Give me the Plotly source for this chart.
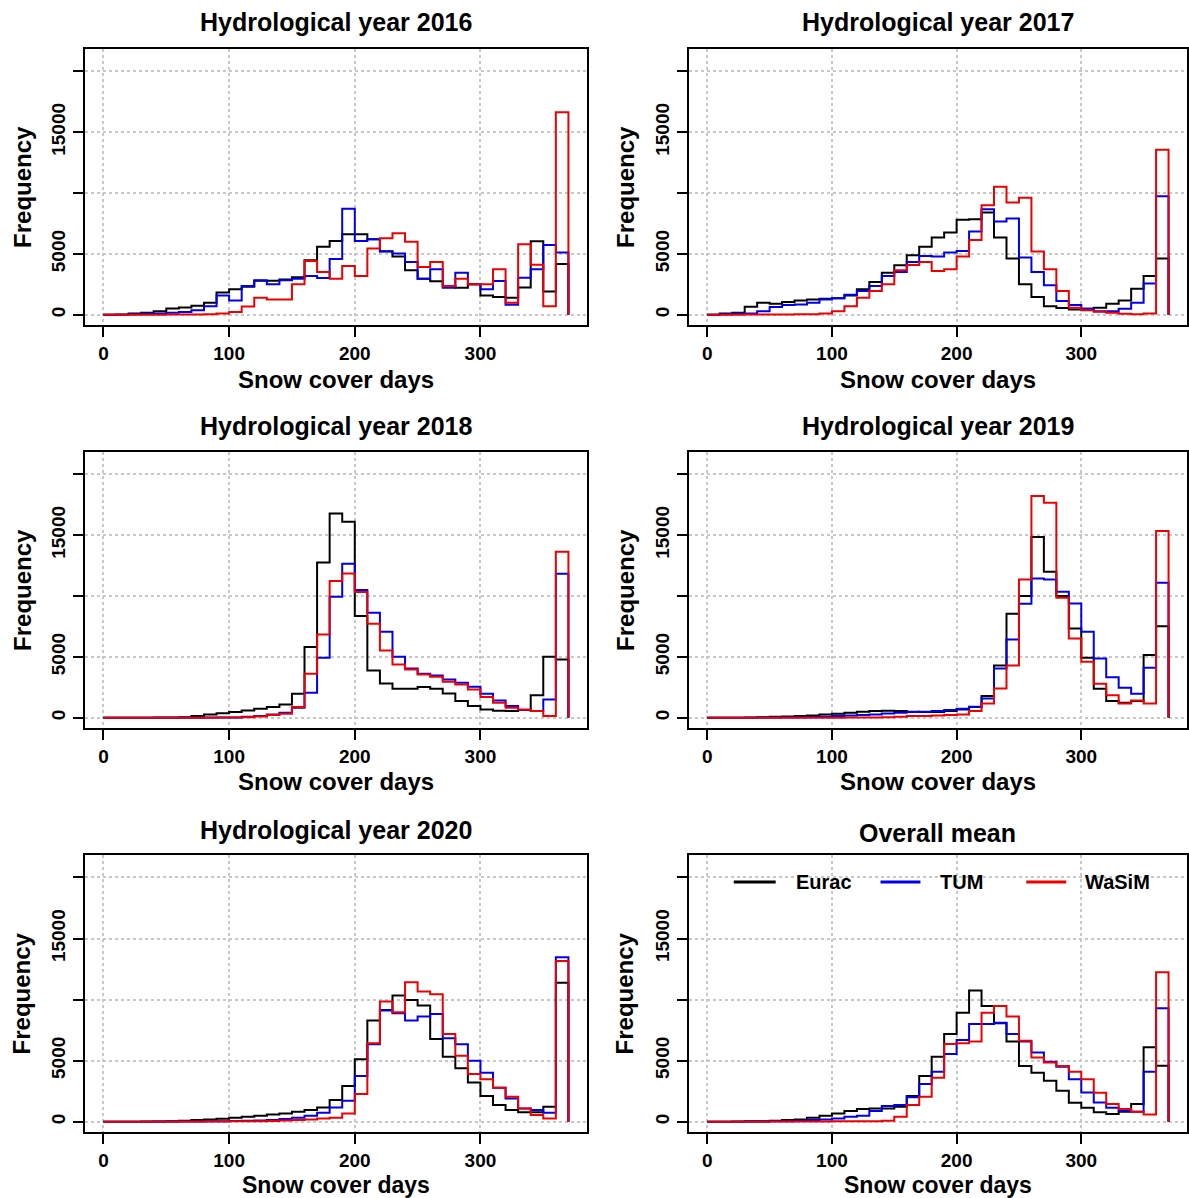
import plotly.graph_objects as go

# ---------------- data (counts per 10-day bin, 0..370 days) ----------------
BIN_EDGES = list(range(0, 380, 10))

EURAC_2016 = [0, 20, 100, 170, 300, 520, 600, 740, 990, 1840, 2090, 2300, 2800, 2800, 2900, 3080, 4480, 5600, 6070, 6620,
              6620, 6200, 5220, 4780, 3650, 2970, 2750, 2360, 2220, 2500, 1590, 1460, 1400, 2250, 6040, 1920, 4180]
TUM_2016 = [0, 10, 50, 80, 100, 170, 220, 380, 710, 1590, 1180, 2360, 2830, 2500, 2830, 2970, 3190, 3020, 4590, 8710,
            6070, 6210, 5190, 5030, 4340, 2970, 3740, 2230, 3460, 2500, 2090, 2770, 820, 3050, 3740, 5740, 5110]
WASIM_2016 = [0, 0, 0, 0, 10, 20, 30, 30, 50, 110, 220, 690, 1400, 1260, 1260, 2500, 4420, 3520, 2970, 4010,
              3190, 5440, 6290, 6700, 6010, 3930, 4340, 2360, 2970, 2500, 2500, 3740, 990, 5800, 4120, 710, 16650]

EURAC_2017 = [0, 100, 160, 660, 990, 910, 1040, 1180, 1260, 1320, 1350, 1590, 2090, 2690, 3460, 4070, 4890, 5580, 6350, 6760,
              7800, 7860, 8410, 6350, 4620, 2500, 1460, 710, 550, 440, 490, 580, 910, 1180, 2140, 3190, 4620]
TUM_2017 = [0, 50, 80, 110, 300, 630, 800, 850, 990, 1260, 1350, 1650, 1950, 2360, 3190, 3520, 4340, 4840, 4780, 5110,
            5250, 6840, 8680, 7660, 7910, 4700, 3520, 2420, 1130, 800, 490, 300, 300, 490, 990, 2580, 9730]
WASIM_2017 = [0, 0, 10, 20, 20, 30, 30, 40, 50, 110, 300, 710, 1400, 1950, 2500, 3650, 4090, 4340, 3600, 3740,
              4780, 6150, 9010, 10520, 9230, 9620, 5190, 3740, 1950, 580, 380, 250, 160, 80, 50, 110, 13570]

EURAC_2018 = [0, 0, 0, 10, 20, 30, 50, 140, 270, 380, 470, 600, 740, 880, 1100, 1970, 5810, 12770, 16790, 16110,
              8360, 3890, 2820, 2380, 2380, 2520, 2380, 2000, 1370, 960, 680, 580, 550, 630, 1860, 5010, 4790]
TUM_2018 = [0, 0, 0, 0, 0, 10, 10, 10, 20, 20, 30, 80, 140, 270, 410, 820, 2050, 4930, 9950, 12660,
            10490, 8630, 7070, 5010, 4050, 3620, 3480, 3150, 2880, 2550, 1970, 1420, 960, 630, 550, 1510, 11840]
WASIM_2018 = [0, 0, 0, 0, 0, 0, 0, 10, 10, 20, 30, 50, 110, 220, 330, 880, 3620, 6850, 11230, 11860,
              10330, 7730, 5530, 4380, 3970, 3560, 3370, 2960, 2740, 2330, 1700, 1230, 820, 680, 550, 140, 13640]

EURAC_2019 = [0, 0, 0, 30, 50, 80, 110, 140, 190, 270, 330, 410, 490, 550, 580, 550, 490, 470, 470, 550,
              680, 880, 1780, 4300, 8550, 10000, 14850, 12000, 10000, 7340, 4930, 2380, 1370, 1230, 1370, 5150, 7530]
TUM_2019 = [0, 0, 0, 10, 20, 30, 40, 50, 60, 80, 140, 190, 220, 270, 360, 410, 470, 490, 550, 630,
            740, 900, 1590, 4050, 6440, 9370, 11450, 11370, 10360, 9400, 7070, 4880, 3340, 2470, 1970, 4110, 11100]
WASIM_2019 = [0, 0, 0, 0, 0, 0, 0, 0, 10, 10, 10, 20, 20, 30, 50, 80, 140, 140, 190, 220,
              270, 550, 1180, 2410, 4300, 11370, 18220, 17670, 9860, 6520, 4600, 2790, 1860, 1180, 1420, 1180, 15340]

EURAC_2020 = [0, 0, 0, 10, 20, 50, 80, 140, 190, 250, 330, 410, 490, 600, 680, 820, 960, 1170, 1780, 2920,
              5110, 8280, 9150, 10330, 9970, 9510, 6780, 5330, 4370, 3220, 2100, 1370, 960, 770, 770, 1230, 11390]
TUM_2020 = [0, 0, 0, 0, 10, 10, 20, 20, 30, 40, 60, 80, 100, 140, 220, 330, 490, 740, 1170, 1720,
            3740, 6340, 9100, 8880, 8280, 8610, 8830, 6830, 6340, 5000, 4020, 2790, 1910, 1090, 960, 740, 13470]
WASIM_2020 = [0, 0, 0, 0, 0, 0, 10, 10, 20, 20, 30, 40, 50, 70, 100, 140, 190, 270, 330, 680,
              2270, 6420, 9840, 8960, 11420, 10660, 10440, 7190, 5410, 3910, 3470, 2790, 2050, 1090, 550, 270, 13170]

EURAC_MEAN = [0, 0, 10, 30, 50, 80, 140, 190, 330, 490, 680, 870, 1040, 1090, 1090, 1230, 2100, 3740, 5330, 7190,
              8930, 10740, 9480, 8060, 6560, 4560, 4020, 3360, 2540, 1560, 1150, 770, 630, 820, 1450, 6090, 4590]
TUM_MEAN = [0, 0, 0, 10, 20, 30, 50, 80, 140, 190, 270, 410, 490, 870, 1280, 1370, 2000, 3090, 4100, 5550,
            6690, 8000, 8000, 8110, 7190, 6560, 5660, 4920, 4510, 3470, 2400, 1580, 1150, 900, 820, 4100, 9290]
WASIM_MEAN = [0, 0, 0, 0, 0, 10, 10, 10, 20, 20, 30, 30, 40, 50, 80, 410, 1370, 2050, 3610, 6370,
              6420, 6560, 8930, 9480, 8610, 6640, 5270, 4860, 4560, 4100, 3470, 2380, 1450, 1040, 820, 600, 12240]

TITLES = ["Hydrological year 2016", "Hydrological year 2017", "Hydrological year 2018",
          "Hydrological year 2019", "Hydrological year 2020", "Overall mean"]
PANELS = [
    (EURAC_2016, TUM_2016, WASIM_2016),
    (EURAC_2017, TUM_2017, WASIM_2017),
    (EURAC_2018, TUM_2018, WASIM_2018),
    (EURAC_2019, TUM_2019, WASIM_2019),
    (EURAC_2020, TUM_2020, WASIM_2020),
    (EURAC_MEAN, TUM_MEAN, WASIM_MEAN),
]
SERIES = ["Eurac", "TUM", "WaSiM"]
COLORS = ["#000000", "#0000EE", "#EE0000"]
X_TICKS = [0, 100, 200, 300]
Y_TICKS = [0, 5000, 10000, 15000, 20000]
Y_TICKTEXT = ["0", "5000", "", "15000", ""]

# ---------------- layout geometry (pixels) ----------------
W, H = 1189, 1198
COLS = [(85, 588), (690, 1189)]
ROWS = [(49, 325), (452, 728), (855, 1132)]
TITLE_Y = [22, 426, 830]
XLAB_Y = [379, 782, 1185]
XLAB_SIZE = [24, 24, 23]
YLAB_X = [22, 626]
FONT = "Liberation Sans, Arial, sans-serif"


def px_x(p):
    return p / W


def px_y(p):
    return 1 - p / H


fig = go.Figure()
layout = dict(width=W, height=H, margin=dict(l=0, r=0, t=0, b=0),
              paper_bgcolor="white", plot_bgcolor="white", showlegend=False,
              font=dict(family=FONT, color="black"))
annotations = []

for k, (title, series) in enumerate(zip(TITLES, PANELS)):
    r, c = divmod(k, 2)
    idx = "" if k == 0 else str(k + 1)
    xa, ya = "x" + idx, "y" + idx
    for name, counts, col in zip(SERIES, series, COLORS):
        xs = [BIN_EDGES[0]] + BIN_EDGES
        ys = [0] + list(counts) + [0]
        fig.add_trace(go.Scatter(x=xs, y=ys, mode="lines", line=dict(color=col, width=2, shape="hv"),
                                 name=name, xaxis=xa, yaxis=ya, showlegend=False, hoverinfo="skip"))
    common = dict(showline=True, mirror=True, linecolor="black", linewidth=2,
                  ticks="outside", ticklen=10, tickwidth=2, tickcolor="black",
                  showgrid=True, gridcolor="#C8C8C8", griddash="dot", gridwidth=1.5,
                  zeroline=False, tickfont=dict(family=FONT, size=19, color="black", weight="bold"))
    layout["xaxis" + idx] = dict(common, domain=[px_x(COLS[c][0]), px_x(COLS[c][1])],
                                 range=[-14.8, 384.8], tickvals=X_TICKS, anchor=ya)
    layout["yaxis" + idx] = dict(common, domain=[px_y(ROWS[r][1]), px_y(ROWS[r][0])],
                                 range=[-840, 21840], tickvals=Y_TICKS, ticktext=Y_TICKTEXT,
                                 tickangle=-90, anchor=xa)
    xc = (COLS[c][0] + COLS[c][1]) / 2
    yc = (ROWS[r][0] + ROWS[r][1]) / 2
    annotations.append(dict(text="<b>%s</b>" % title, x=px_x(xc), y=px_y(TITLE_Y[r] + (3 if k == 5 else 0)),
                            xref="paper", yref="paper", showarrow=False, xanchor="center", yanchor="middle",
                            font=dict(family=FONT, size=25, color="black")))
    annotations.append(dict(text="<b>Snow cover days</b>", x=px_x(xc), y=px_y(XLAB_Y[r]),
                            xref="paper", yref="paper", showarrow=False, xanchor="center", yanchor="middle",
                            font=dict(family=FONT, size=XLAB_SIZE[r], color="black")))
    annotations.append(dict(text="<b>Frequency</b>", x=px_x(YLAB_X[c]), y=px_y(yc), textangle=-90,
                            xref="paper", yref="paper", showarrow=False, xanchor="center", yanchor="middle",
                            font=dict(family=FONT, size=24, color="black")))

# legend inside the "Overall mean" panel
LEG_Y = 882
LEG_LINES = [(735, 777), (882, 922), (1028, 1068)]
LEG_TEXT_X = [795, 940, 1085]
shapes = []
for name, col, (x0, x1), tx in zip(SERIES, COLORS, LEG_LINES, LEG_TEXT_X):
    shapes.append(dict(type="line", xref="paper", yref="paper", x0=px_x(x0), x1=px_x(x1),
                       y0=px_y(LEG_Y), y1=px_y(LEG_Y), line=dict(color=col, width=3)))
    annotations.append(dict(text="<b>%s</b>" % name, x=px_x(tx), y=px_y(LEG_Y), xref="paper", yref="paper",
                            showarrow=False, xanchor="left", yanchor="middle",
                            font=dict(family=FONT, size=20, color="black")))

layout["annotations"] = annotations
layout["shapes"] = shapes
fig.update_layout(**layout)
fig.write_html("out.html", config={"displayModeBar": False},
               post_script="document.body.style.margin='0';document.body.style.padding='0';")
